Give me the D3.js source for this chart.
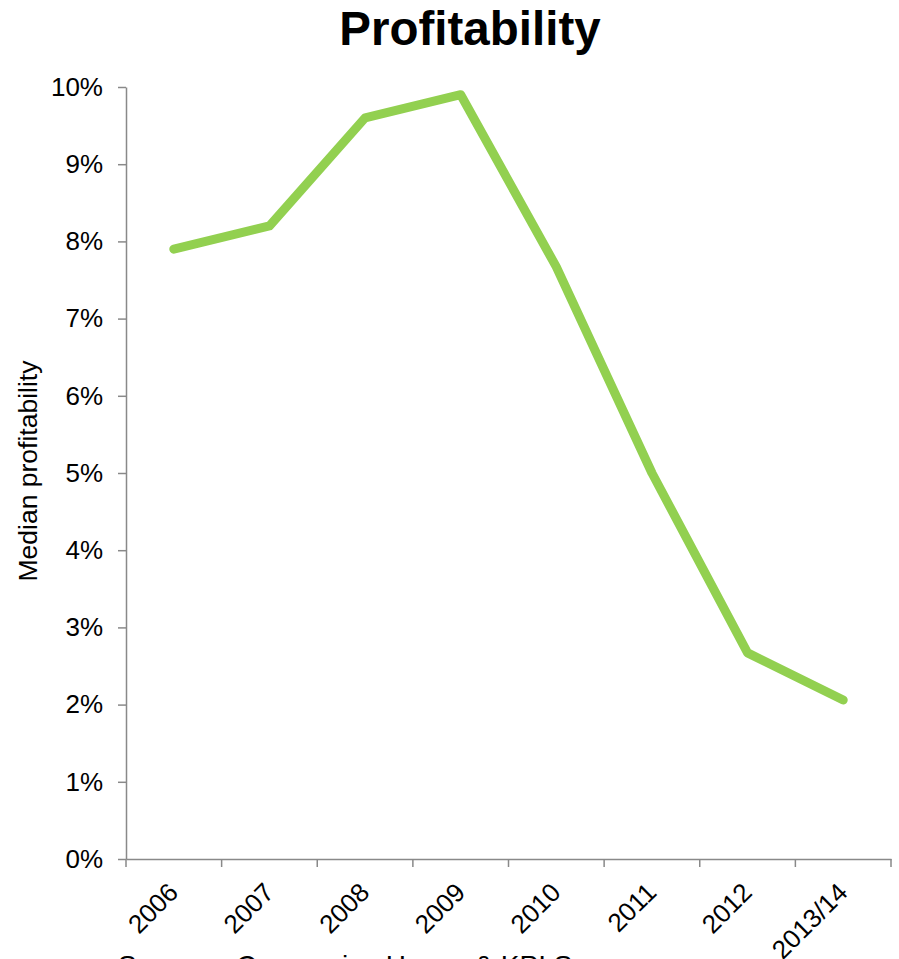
<!DOCTYPE html>
<html>
<head>
<meta charset="utf-8">
<script src="https://cdn.jsdelivr.net/npm/d3@7/dist/d3.min.js"></script>
<style>
  html, body { margin: 0; padding: 0; background: #fff; }
  svg { display: block; }
  text { font-family: "Liberation Sans", Arial, sans-serif; fill: #000; }
</style>
</head>
<body>
<svg id="chart" width="899" height="959"></svg>
<script>
const categories = ["2006", "2007", "2008", "2009", "2010", "2011", "2012", "2013/14"];
const profitability = [0.079, 0.082, 0.096, 0.099, 0.0767, 0.050, 0.0267, 0.0206];
const yTicks = [0, 0.01, 0.02, 0.03, 0.04, 0.05, 0.06, 0.07, 0.08, 0.09, 0.10];
const titleText = "Profitability";
const yAxisTitle = "Median profitability";
const sourceText = "Sources: Companies House & KPI Survey";

(function () {
const svg = d3.select("#chart");
const plotLeft = 126, plotRight = 891, plotTop = 87, plotBottom = 859;
const axisColor = "#898989";

const x = d3.scaleBand().domain(categories).range([plotLeft, plotRight]).padding(0);
const y = d3.scaleLinear().domain([0, 0.10]).range([plotBottom, plotTop]);

// Title
svg.append("text")
  .attr("x", 470).attr("y", 45)
  .attr("text-anchor", "middle")
  .style("font-size", "47.5px").style("font-weight", "bold")
  .text(titleText);

// Y axis
const yAxis = svg.append("g")
  .attr("transform", `translate(${plotLeft},0)`)
  .call(d3.axisLeft(y).tickValues(yTicks).tickFormat(d3.format(".0%"))
    .tickSize(8).tickSizeOuter(0).tickPadding(15));
yAxis.select(".domain").attr("stroke", axisColor).attr("stroke-width", 1.5);
yAxis.selectAll(".tick line").attr("stroke", axisColor).attr("stroke-width", 1.5);
yAxis.selectAll(".tick text").style("font-size", "26px").style("font-family", "Liberation Sans, Arial, sans-serif").attr("fill", "#000");

// X axis (labels at band centres, ticks at boundaries)
const xAxis = svg.append("g")
  .attr("transform", `translate(0,${plotBottom})`)
  .call(d3.axisBottom(x).tickSize(0).tickSizeOuter(0));
xAxis.select(".domain").attr("stroke", axisColor).attr("stroke-width", 1.5);
xAxis.selectAll(".tick text")
  .style("font-size", "26px").style("font-family", "Liberation Sans, Arial, sans-serif").attr("fill", "#000")
  .attr("text-anchor", "end")
  .attr("dy", null).attr("y", 0)
  .attr("transform", "translate(6,35) rotate(-45)");

const boundaries = categories.map(c => x(c)).concat([x.range()[1]]);
svg.append("g").selectAll("line").data(boundaries).join("line")
  .attr("x1", d => d).attr("x2", d => d)
  .attr("y1", plotBottom).attr("y2", plotBottom + 8)
  .attr("stroke", axisColor).attr("stroke-width", 1.5);

// Y axis title
svg.append("text")
  .attr("transform", "translate(37,471) rotate(-90)")
  .attr("text-anchor", "middle")
  .style("font-size", "26.5px")
  .text(yAxisTitle);

// Line
const line = d3.line()
  .x((d, i) => x(categories[i]) + x.bandwidth() / 2)
  .y(d => y(d));
svg.append("path")
  .datum(profitability)
  .attr("d", line)
  .attr("fill", "none")
  .attr("stroke", "#92D050")
  .attr("stroke-width", 9)
  .attr("stroke-linecap", "round")
  .attr("stroke-linejoin", "round");

// Source text (partly cut at the bottom, as in the original)
svg.append("text")
  .attr("x", 118).attr("y", 975)
  .style("font-size", "28px")
  .text(sourceText);
})();
</script>
</body>
</html>
